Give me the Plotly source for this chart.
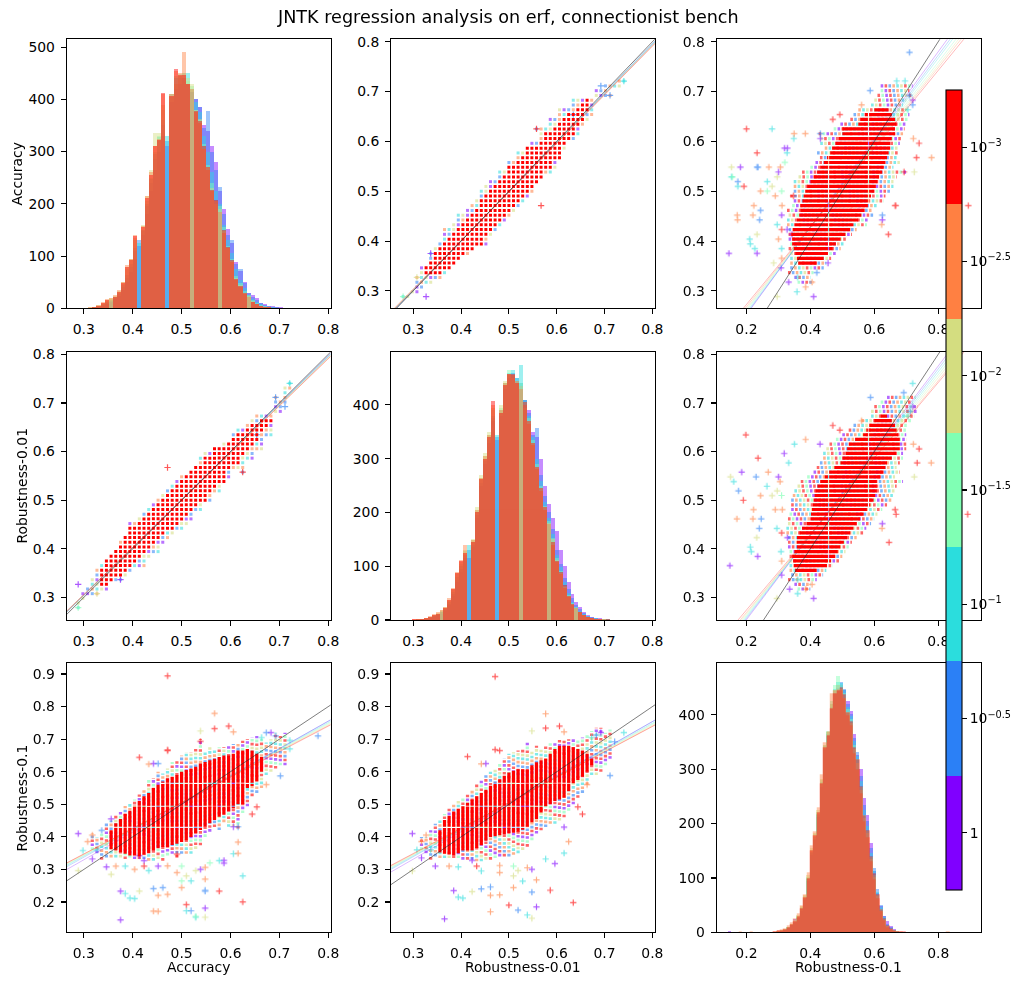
import plotly.graph_objects as go

# ---------------------------------------------------------------- data
series_colors = ["#8000ff", "#2b80f6", "#2bdddd", "#80ffb4", "#d4dd80", "#ff8042", "#ff0000"]
cbar_vals = [0, 0.5, 1, 1.5, 2, 2.5, 3]          # -log10(regularisation)
cbar_text = ["1", "10<sup>−0.5</sup>", "10<sup>−1</sup>", "10<sup>−1.5</sup>",
             "10<sup>−2</sup>", "10<sup>−2.5</sup>", "10<sup>−3</sup>"]
var_labels = ["Accuracy", "Robustness-0.01", "Robustness-0.1"]
title_text = "JNTK regression analysis on erf, connectionist bench"
LATTICE = 1 / 104          # test-set granularity of Accuracy / Robustness-0.01

# histogram: Accuracy (bin start / width, counts per series purple..red)
acc_bin0, acc_binw = 0.2968, 0.0083
acc_h_purple = [0,0,1,1,2,5,8,12,18,24,35,50,70,95,120,140,180,225,265,300,330,310,395,420,430,440,430,415,400,385,350,340,311,281,225,190,151,125,89,72,51,30,25,19,10,8,5,4,3,2]
acc_h_blue = [0,0,1,2,3,6,10,14,20,28,40,58,80,110,130,148,195,240,285,320,350,320,405,430,440,440,428,415,400,385,345,378,300,265,232,180,140,130,85,75,48,30,22,16,10,7,5,3,2,1]
acc_h_cyan = [0,1,1,2,4,8,12,16,21,30,44,64,85,115,125,150,200,248,295,328,360,330,410,440,445,450,450,420,395,375,330,300,260,225,200,160,130,105,75,55,38,26,18,12,8,5,3,2,1,1]
acc_h_green = [0,1,1,2,5,9,14,18,22,32,46,75,92,130,0,150,205,250,300,330,380,0,405,445,448,440,435,425,380,360,315,275,240,205,195,155,120,95,62,48,33,25,15,10,6,4,2,1,1,1]
acc_h_yellow = [0,1,2,3,6,11,16,19,24,34,50,80,95,135,0,160,215,265,336,335,390,0,410,430,445,450,440,430,380,362,305,270,230,200,190,148,115,90,58,44,30,24,14,9,5,3,2,1,1,0]
acc_h_orange = [0,1,2,3,6,12,17,20,25,35,50,82,95,140,0,158,215,260,310,325,410,0,410,455,450,490,430,420,375,355,305,265,225,205,185,145,115,88,55,40,28,22,12,8,5,3,2,1,1,0]
acc_h_red = [0,1,1,2,5,10,15,0,22,32,48,80,92,138,0,156,211,255,310,322,412,0,407,458,446,446,430,0,377,358,310,271,227,208,0,150,118,93,57,42,29,0,13,8,5,3,2,1,0,1]

# histogram: Robustness-0.01
r001_bin0, r001_binw = 0.301, 0.0083
r001_h_purple = [0,0,1,2,3,6,9,12,16,27,44,70,90,110,115,135,190,250,290,330,370,335,380,430,450,455,445,435,410,390,350,340,300,250,215,190,165,130,100,70,48,33,24,15,10,6,4,3,2,1]
r001_h_blue = [0,0,1,2,4,7,10,14,18,30,48,75,95,115,130,140,195,255,295,335,375,340,385,435,455,460,450,440,410,385,345,357,270,230,200,170,130,105,78,58,40,28,20,13,8,5,3,2,1,1]
r001_h_cyan = [0,1,1,2,5,8,12,15,20,34,52,80,100,120,140,145,200,260,300,340,380,345,390,440,460,465,450,475,410,380,340,300,258,220,190,160,120,98,70,50,34,24,17,11,7,4,3,2,1,1]
r001_h_green = [0,1,1,3,5,9,12,17,22,36,55,85,105,128,0,148,205,265,305,345,390,0,395,440,465,455,445,440,405,375,335,290,250,212,185,152,115,92,64,46,31,24,15,10,6,4,2,1,1,1]
r001_h_yellow = [0,1,2,3,6,10,13,18,24,38,58,88,108,130,0,150,210,270,310,350,395,0,400,445,455,450,440,435,395,370,330,285,245,210,180,150,112,88,62,44,30,22,14,9,5,3,2,1,1,0]
r001_h_orange = [1,1,2,4,7,11,14,18,25,40,60,90,112,140,0,148,205,265,305,345,400,0,390,440,458,455,445,430,400,365,325,280,240,205,178,140,108,85,60,42,28,22,14,9,5,3,2,1,1,0]
r001_h_red = [1,1,2,3,6,10,12,0,22,38,58,88,110,124,0,145,200,262,300,340,408,0,385,438,458,458,440,0,405,370,330,285,245,210,0,145,110,90,65,45,30,0,15,10,6,4,2,1,0,1]

# histogram: Robustness-0.1
r01_bin0, r01_binw = 0.2885, 0.0104
r01_h_purple = [1,1,3,5,8,13,25,26,40,60,95,142,170,212,268,335,362,410,440,450,455,445,425,408,365,326,300,247,215,165,112,72,48,30,20,12,6,3,1,1,0,0]
r01_h_blue = [1,1,3,5,8,13,18,27,42,62,98,145,172,215,272,338,365,415,445,455,460,448,420,402,358,332,288,235,205,155,118,80,50,30,16,9,5,3,1,1,1,0]
r01_h_cyan = [1,2,3,5,9,14,19,28,44,64,100,148,176,218,276,342,368,420,448,460,458,445,415,398,352,325,278,225,195,146,112,74,46,28,14,8,4,2,1,1,0,0]
r01_h_green = [1,2,4,6,10,15,20,30,46,66,102,152,180,222,280,345,370,425,455,472,455,440,410,392,345,318,268,215,186,138,105,68,42,24,12,7,4,2,1,0,0,0]
r01_h_yellow = [1,2,4,6,10,16,22,32,48,68,105,155,182,225,282,345,368,420,445,455,448,432,405,385,338,312,262,210,182,135,102,66,40,23,11,6,3,2,1,1,0,0]
r01_h_orange = [2,3,5,7,12,18,25,35,50,70,110,160,185,230,290,350,370,440,445,448,445,430,400,380,330,300,255,205,175,130,98,62,38,22,10,6,3,2,1,0,0,0]
r01_h_red = [2,3,4,6,10,15,20,30,45,65,100,150,178,220,275,340,362,412,440,445,450,438,405,388,340,318,268,215,188,140,108,70,42,25,12,7,4,2,1,1,0,0]
r01_tail_x = [0.148, 0.165, 0.180, 0.200, 0.215, 0.230, 0.250, 0.270, 0.720, 0.755, 0.830, 0.890]
r01_tail_n = [2, 1, 2, 1, 1, 1, 1, 1, 1, 1, 1, 1]
r01_tail_series = [0, 1, 5, 6, 5, 2, 3, 4, 3, 6, 5, 6]

# pair A : rows of Accuracy, ranges of Robustness-0.01 (dense core + mixed fringe)
pA_row = [0.7212,0.7115,0.7019,0.6923,0.6827,0.6731,0.6635,0.6538,0.6442,0.6346,0.6250,0.6154,0.6058,0.5962,0.5865,0.5769,0.5673,0.5577,0.5481,0.5385,0.5288,0.5192,0.5096,0.5000,0.4904,0.4808,0.4712,0.4615,0.4519,0.4423,0.4327,0.4231,0.4135,0.4038,0.3942,0.3846,0.3750,0.3654,0.3558,0.3462,0.3365,0.3269,0.3173,0.3077,0.2981,0.2885]
pA_core_lo = [None,None,None,None,0.6635,0.6538,0.6442,0.6250,0.6154,0.6058,0.5962,0.5769,0.5769,0.5673,0.5385,0.5385,0.5288,0.5192,0.5000,0.5000,0.4904,0.4808,0.4712,0.4615,0.4519,0.4423,0.4423,0.4327,0.4231,0.4135,0.4038,0.3942,0.3846,0.3750,0.3654,0.3558,0.3462,0.3462,0.3365,0.3269,0.3269,None,None,None,None,None]
pA_core_hi = [None,None,None,None,0.6635,0.6635,0.6635,0.6538,0.6538,0.6442,0.6346,0.6346,0.6250,0.6154,0.6058,0.6058,0.6058,0.5865,0.5865,0.5673,0.5673,0.5577,0.5481,0.5385,0.5288,0.5192,0.5096,0.5000,0.4904,0.4808,0.4712,0.4615,0.4519,0.4423,0.4423,0.4231,0.4038,0.3942,0.3846,0.3750,0.3558,None,None,None,None,None]
pA_out_lo = [0.7308,0.7019,0.6827,0.6827,0.6346,0.6346,0.6058,0.6058,0.5865,0.5865,0.5577,0.5673,0.5673,0.5481,0.5385,0.5192,0.5192,0.5000,0.5000,0.4808,0.4808,0.4615,0.4519,0.4423,0.4423,0.4327,0.4231,0.4135,0.3942,0.3942,0.3846,0.3654,0.3654,0.3654,0.3558,0.3462,0.3365,0.3365,0.3365,0.3173,0.3173,0.3077,0.3077,0.3077,0.2981,0.2788]
pA_out_hi = [0.7404,0.7308,0.7019,0.7115,0.6731,0.6731,0.6731,0.6731,0.6635,0.6538,0.6442,0.6442,0.6346,0.6154,0.6154,0.6058,0.6058,0.5962,0.5962,0.5865,0.5673,0.5577,0.5481,0.5481,0.5385,0.5288,0.5192,0.5096,0.5000,0.4904,0.4808,0.4712,0.4615,0.4519,0.4519,0.4231,0.4135,0.3942,0.3846,0.3750,0.3654,0.3558,0.3365,0.3173,0.3077,0.2885]
pA_pt_acc = [0.2885, 0.2885, 0.3750, 0.4712, 0.6250, 0.6923, 0.7212, 0.3269, 0.6538, 0.7115]
pA_pt_r001 = [0.2788, 0.3269, 0.3365, 0.5673, 0.5577, 0.7115, 0.7404, 0.3077, 0.6346, 0.6923]
pA_pt_series = [3, 0, 0, 6, 6, 1, 2, 4, 1, 1]

# pair B : rows of Accuracy, ranges of Robustness-0.1
pB_row = [0.7115,0.7019,0.6923,0.6827,0.6731,0.6635,0.6538,0.6442,0.6346,0.6250,0.6154,0.6058,0.5962,0.5865,0.5769,0.5673,0.5577,0.5481,0.5385,0.5288,0.5192,0.5096,0.5000,0.4904,0.4808,0.4712,0.4615,0.4519,0.4423,0.4327,0.4231,0.4135,0.4038,0.3942,0.3846,0.3750,0.3654,0.3558,0.3462,0.3365,0.3269,0.3173]
pB_core_lo = [None,None,None,None,None,0.600,0.570,0.556,0.550,0.500,0.500,0.488,0.478,0.468,0.462,0.452,0.442,0.431,0.421,0.410,0.400,0.390,0.384,0.379,0.375,0.369,0.369,0.365,0.358,0.350,0.345,0.340,0.343,0.343,0.348,0.353,0.358,0.362,None,None,None,None]
pB_core_hi = [None,None,None,None,None,0.645,0.655,0.665,0.670,0.665,0.665,0.655,0.650,0.650,0.645,0.640,0.635,0.630,0.625,0.615,0.610,0.605,0.600,0.590,0.585,0.580,0.570,0.560,0.550,0.535,0.525,0.510,0.495,0.480,0.470,0.455,0.442,0.420,None,None,None,None]
pB_out_lo = [0.620,0.620,0.610,0.600,0.590,0.550,0.535,0.525,0.494,0.473,0.426,0.431,0.431,0.445,0.421,0.430,0.416,0.400,0.374,0.363,0.348,0.348,0.348,0.337,0.348,0.343,0.327,0.332,0.327,0.327,0.332,0.332,0.332,0.337,0.332,0.337,0.337,0.337,0.337,0.330,0.350,0.360]
pB_out_hi = [0.720,0.710,0.720,0.700,0.690,0.705,0.710,0.705,0.700,0.695,0.690,0.685,0.680,0.675,0.675,0.670,0.680,0.660,0.700,0.670,0.660,0.660,0.650,0.635,0.630,0.610,0.595,0.600,0.580,0.577,0.545,0.530,0.515,0.505,0.495,0.480,0.465,0.450,0.442,0.410,0.400,0.410]
pB_pt_acc = [0.5481,0.5288,0.5481,0.5192,0.5096,0.5096,0.4519,0.3750,0.3942,0.3750,0.3846,0.5481,0.5481,0.5769,0.6250,0.4712,0.4615,0.4135,0.5865,0.5769,0.6058,0.6154,0.6058,0.6154,0.2885,0.2885,0.2981,0.3173,0.3173,0.5673,0.5673,0.6058,0.4712,0.4712,0.4135,0.4327,0.7788,0.7212,0.7212,0.7019,0.5481,0.5288,0.4712,0.4327,0.4231,0.4135,0.5096,0.5000,0.5192,0.5385,0.4904,0.4038,0.4423,0.4519,0.4423,0.5000,0.5288,0.5481,0.5865,0.6154,0.6538,0.3462,0.3654,0.3846,0.4038,0.4231,0.4519,0.4904,0.6827,0.6923,0.6731,0.6635,0.5385,0.5385,0.5962,0.4423,0.4519,0.4712,0.3077,0.3269,0.5577,0.5000,0.3558,0.6250,0.3365,0.3558,0.6731,0.6442]
pB_pt_r01 = [0.153,0.153,0.181,0.173,0.173,0.192,0.171,0.145,0.212,0.233,0.226,0.233,0.270,0.233,0.200,0.223,0.244,0.233,0.319,0.327,0.348,0.384,0.431,0.431,0.296,0.410,0.358,0.405,0.332,0.732,0.779,0.722,0.894,0.665,0.644,0.623,0.710,0.696,0.670,0.587,0.306,0.296,0.311,0.296,0.327,0.342,0.280,0.310,0.265,0.300,0.290,0.210,0.241,0.220,0.172,0.244,0.156,0.236,0.328,0.349,0.492,0.308,0.310,0.310,0.300,0.310,0.310,0.347,0.720,0.710,0.720,0.705,0.725,0.693,0.740,0.625,0.625,0.667,0.385,0.360,0.320,0.265,0.285,0.280,0.420,0.455,0.560,0.470]
pB_pt_series = [4,2,0,1,2,6,5,0,2,0,2,1,5,6,6,5,1,4,0,2,2,5,0,1,4,0,2,5,0,6,5,5,6,6,6,5,1,2,2,1,5,4,5,2,0,0,4,3,2,0,5,2,1,5,5,5,3,1,0,5,6,0,5,2,5,6,0,6,0,1,1,2,4,6,6,0,1,6,5,2,3,3,4,2,1,0,5,6]

# pair C : rows of Robustness-0.01, ranges of Robustness-0.1
pC_row = [0.7115,0.7019,0.6923,0.6827,0.6731,0.6635,0.6538,0.6442,0.6346,0.6250,0.6154,0.6058,0.5962,0.5865,0.5769,0.5673,0.5577,0.5481,0.5385,0.5288,0.5192,0.5096,0.5000,0.4904,0.4808,0.4712,0.4615,0.4519,0.4423,0.4327,0.4231,0.4135,0.4038,0.3942,0.3846,0.3750,0.3654,0.3558,0.3462,0.3365,0.3269,0.3173]
pC_core_lo = [None,None,None,None,0.620,0.600,0.585,0.575,0.565,0.540,0.520,0.515,0.510,0.500,0.494,0.475,0.455,0.445,0.431,0.422,0.416,0.413,0.410,0.408,0.405,0.402,0.400,0.388,0.374,0.366,0.358,0.358,0.358,0.350,0.343,0.346,0.348,0.352,None,None,None,None]
pC_core_hi = [None,None,None,None,0.640,0.655,0.665,0.670,0.675,0.680,0.680,0.680,0.670,0.655,0.640,0.635,0.629,0.620,0.608,0.608,0.608,0.603,0.598,0.588,0.577,0.567,0.556,0.545,0.535,0.525,0.515,0.505,0.494,0.486,0.478,0.465,0.452,0.420,None,None,None,None]
pC_out_lo = [0.640,0.620,0.600,0.590,0.590,0.560,0.535,0.520,0.500,0.480,0.460,0.450,0.440,0.440,0.430,0.420,0.410,0.390,0.370,0.360,0.350,0.345,0.340,0.340,0.340,0.335,0.330,0.330,0.325,0.325,0.330,0.330,0.330,0.335,0.335,0.335,0.335,0.335,0.340,0.330,0.350,0.360]
pC_out_hi = [0.730,0.720,0.735,0.735,0.725,0.715,0.705,0.700,0.700,0.700,0.700,0.700,0.690,0.690,0.680,0.670,0.680,0.665,0.690,0.670,0.665,0.660,0.655,0.640,0.625,0.610,0.600,0.590,0.575,0.565,0.545,0.530,0.520,0.510,0.500,0.490,0.470,0.450,0.440,0.420,0.400,0.400]
pC_pt_r001 = [0.5481,0.5385,0.5577,0.5192,0.5000,0.4615,0.3654,0.3942,0.3846,0.5481,0.5577,0.5865,0.6346,0.4808,0.4615,0.4231,0.5962,0.5769,0.6154,0.6250,0.6154,0.2981,0.2981,0.3077,0.3269,0.3173,0.5769,0.5769,0.6154,0.4712,0.4808,0.4135,0.4423,0.7404,0.7212,0.7115,0.5385,0.5192,0.4808,0.4423,0.4231,0.5096,0.5096,0.5288,0.5481,0.4808,0.4038,0.4423,0.4615,0.5096,0.6442,0.3462,0.3750,0.3942,0.4327,0.6923,0.6827,0.6731,0.5481,0.6058,0.4519,0.4712,0.3173,0.3365,0.6635,0.6538]
pC_pt_r01 = [0.150,0.160,0.185,0.175,0.190,0.170,0.148,0.215,0.235,0.230,0.268,0.236,0.198,0.222,0.246,0.232,0.318,0.332,0.350,0.385,0.430,0.295,0.410,0.360,0.405,0.335,0.734,0.778,0.722,0.892,0.665,0.646,0.624,0.720,0.692,0.588,0.305,0.296,0.312,0.295,0.328,0.280,0.310,0.264,0.300,0.290,0.212,0.240,0.220,0.244,0.492,0.310,0.310,0.308,0.310,0.720,0.712,0.705,0.725,0.740,0.625,0.668,0.385,0.360,0.560,0.470]
pC_pt_series = [4,2,0,1,6,5,0,2,0,1,5,6,6,5,1,4,0,2,2,5,0,4,0,2,5,0,6,5,5,6,6,6,5,2,1,1,5,4,5,2,0,4,3,2,0,5,2,1,5,5,6,0,5,2,6,0,1,2,4,6,0,6,5,2,5,6]

# Robustness-0.1 values left empty inside the dense core (visible as thin white lines)
r01_empty_rows = [0.457, 0.582]          # seen in the row-wise panels
r01_empty_cols = [0.429, 0.494, 0.564]   # seen in the column-wise panels

# regression lines (slope, intercept) per panel, series purple..red
reg_01_slope = [0.990, 0.985, 0.990, 0.985, 0.980, 0.980, 0.975]
reg_01_icpt = [0.004, 0.006, 0.004, 0.007, 0.009, 0.008, 0.011]
reg_10_slope = [0.985, 0.980, 0.985, 0.980, 0.975, 0.975, 0.970]
reg_10_icpt = [0.009, 0.011, 0.008, 0.011, 0.013, 0.012, 0.015]
reg_02_slope = [0.880, 0.865, 0.850, 0.830, 0.815, 0.800, 0.783]
reg_02_icpt = [0.076, 0.081, 0.087, 0.095, 0.101, 0.108, 0.116]
reg_12_slope = [0.870, 0.855, 0.840, 0.825, 0.810, 0.795, 0.780]
reg_12_icpt = [0.080, 0.086, 0.092, 0.098, 0.104, 0.110, 0.118]
reg_20_slope = [0.852, 0.835, 0.820, 0.810, 0.800, 0.790, 0.785]
reg_20_icpt = [0.074, 0.087, 0.095, 0.100, 0.105, 0.110, 0.112]
reg_21_slope = [0.845, 0.830, 0.815, 0.805, 0.795, 0.785, 0.780]
reg_21_icpt = [0.078, 0.090, 0.097, 0.102, 0.107, 0.112, 0.115]

# ---------------------------------------------------------------- layout geometry (window pixels)
W, H = 1022, 985
col_px = [(66.7, 330.7), (391.0, 655.0), (716.7, 980.7)]
row_px = [(39.3, 308.3), (351.7, 620.0), (663.3, 932.3)]
var_range = [[0.265, 0.805], [0.2535, 0.8055], [0.107, 0.933]]
hist_top = [515, 499, 495]
FONT = "DejaVu Sans"
FS = 13.9


def px_x(px):
    return px / W


def px_y(py):
    return 1 - py / H


fig = go.Figure()


def ax(r, c, kind):
    p = r * 3 + c + 1
    return kind if p == 1 else f"{kind}{p}"


def ppu_x(c):
    return (col_px[c][1] - col_px[c][0]) / (var_range[c][1] - var_range[c][0])


def ppu_y(r):
    return (row_px[r][1] - row_px[r][0]) / (var_range[r][1] - var_range[r][0])


def add_segments(r, c, orient, fixed, lo, hi, color, width, dash="solid", opacity=1.0):
    if not fixed:
        return
    xs, ys = [], []
    for f, a, b in zip(fixed, lo, hi):
        if orient == "h":
            xs += [a, b, None]
            ys += [f, f, None]
        else:
            xs += [f, f, None]
            ys += [a, b, None]
    fig.add_trace(go.Scatter(x=xs, y=ys, mode="lines", xaxis=ax(r, c, "x"), yaxis=ax(r, c, "y"),
                             line=dict(color=color, width=width, dash=dash), opacity=opacity,
                             connectgaps=False, showlegend=False, hoverinfo="skip"))


def dash_for(j, n, dot, step):
    period = n * step
    off = j * step
    if j == 0:
        return f"{dot:.2f}px,{period - dot:.2f}px"
    return f"0px,{off:.2f}px,{dot:.2f}px,{period - off - dot:.2f}px"


# ---------------------------------------------------------------- histograms
hist_sets = [
    (0, acc_bin0, acc_binw, [acc_h_purple, acc_h_blue, acc_h_cyan, acc_h_green, acc_h_yellow, acc_h_orange, acc_h_red]),
    (1, r001_bin0, r001_binw, [r001_h_purple, r001_h_blue, r001_h_cyan, r001_h_green, r001_h_yellow, r001_h_orange, r001_h_red]),
    (2, r01_bin0, r01_binw, [r01_h_purple, r01_h_blue, r01_h_cyan, r01_h_green, r01_h_yellow, r01_h_orange, r01_h_red]),
]
HIST_ALPHA = 0.45
for d, b0, bw, sets in hist_sets:
    for s, counts in enumerate(sets):
        fig.add_trace(go.Bar(x0=b0, dx=bw, y=counts, width=bw, xaxis=ax(d, d, "x"), yaxis=ax(d, d, "y"),
                             marker=dict(color=series_colors[s], line=dict(width=0)), opacity=HIST_ALPHA,
                             showlegend=False, hoverinfo="skip"))
        if d == 2:
            tx = [x for x, ss in zip(r01_tail_x, r01_tail_series) if ss == s]
            tn = [n for n, ss in zip(r01_tail_n, r01_tail_series) if ss == s]
            if tx:
                fig.add_trace(go.Bar(x=tx, y=tn, width=bw, xaxis=ax(2, 2, "x"), yaxis=ax(2, 2, "y"),
                                     marker=dict(color=series_colors[s], line=dict(width=0)), opacity=HIST_ALPHA,
                                     showlegend=False, hoverinfo="skip"))

# ---------------------------------------------------------------- scatter panels
fringe_A = [5, 2, 4, 0, 1]
fringe_BC = [0, 6, 1, 5, 2, 4, 6, 3]

pairs = [
    dict(kind="A", rows=pA_row, clo=pA_core_lo, chi=pA_core_hi, olo=pA_out_lo, ohi=pA_out_hi,
         pr=pA_pt_acc, pv=pA_pt_r001, ps=pA_pt_series,
         panels=[(0, 1, "h", reg_01_slope, reg_01_icpt), (1, 0, "v", reg_10_slope, reg_10_icpt)]),
    dict(kind="B", rows=pB_row, clo=pB_core_lo, chi=pB_core_hi, olo=pB_out_lo, ohi=pB_out_hi,
         pr=pB_pt_acc, pv=pB_pt_r01, ps=pB_pt_series,
         panels=[(0, 2, "h", reg_02_slope, reg_02_icpt), (2, 0, "v", reg_20_slope, reg_20_icpt)]),
    dict(kind="C", rows=pC_row, clo=pC_core_lo, chi=pC_core_hi, olo=pC_out_lo, ohi=pC_out_hi,
         pr=pC_pt_r001, pv=pC_pt_r01, ps=pC_pt_series,
         panels=[(1, 2, "h", reg_12_slope, reg_12_icpt), (2, 1, "v", reg_21_slope, reg_21_icpt)]),
]


def add_fringe(r, c, orient, fx, flo, fhi, palette, dot, step, width, opacity):
    n = len(palette)
    for q in range(n):                       # rotate the colour order from row to row
        sel = [i for i in range(len(fx)) if i % n == q]
        if not sel:
            continue
        for j, s in enumerate(palette):
            slot = (j + q) % n
            add_segments(r, c, orient, [fx[i] for i in sel], [flo[i] for i in sel], [fhi[i] for i in sel],
                         series_colors[s], width, dash=dash_for(slot, n, dot, step), opacity=opacity)


for P in pairs:
    for (r, c, orient, slopes, icpts) in P["panels"]:
        ppu = ppu_x(c) if orient == "h" else ppu_y(r)
        xa, ya = ax(r, c, "x"), ax(r, c, "y")
        if P["kind"] == "A":
            step_px = LATTICE * ppu
            dot = 3.0
            half = 0.5 * dot / ppu
            fx, flo, fhi = [], [], []
            for f, a, b, ol, oh in zip(P["rows"], P["clo"], P["chi"], P["olo"], P["ohi"]):
                if a is None:
                    fx.append(f); flo.append(ol - half); fhi.append(oh + half)
                else:
                    if ol < a - LATTICE / 2:
                        fx.append(f); flo.append(ol - half); fhi.append(a - LATTICE + half)
                    if oh > b + LATTICE / 2:
                        fx.append(f); flo.append(b + LATTICE - half); fhi.append(oh + half)
            add_fringe(r, c, orient, fx, flo, fhi, fringe_A, dot, step_px, 3.0, 0.55)
        else:
            add_fringe(r, c, orient, P["rows"], P["olo"], P["ohi"], fringe_BC, 2.6, 3.9, 3.2, 0.6)
        # isolated points
        for s in range(7):
            pr = [a for a, ss in zip(P["pr"], P["ps"]) if ss == s]
            pv = [b for b, ss in zip(P["pv"], P["ps"]) if ss == s]
            if not pr:
                continue
            xs, ys = (pv, pr) if orient == "h" else (pr, pv)
            fig.add_trace(go.Scatter(x=xs, y=ys, mode="markers", xaxis=xa, yaxis=ya,
                                     marker=dict(symbol="cross-thin", size=4.5, color=series_colors[s],
                                                 line=dict(width=1.2, color=series_colors[s])),
                                     opacity=0.65, showlegend=False, hoverinfo="skip"))
        # regression lines of the six more regularised runs
        xr = var_range[c]
        for s in range(6):
            fig.add_trace(go.Scatter(x=xr, y=[slopes[s] * xr[0] + icpts[s], slopes[s] * xr[1] + icpts[s]],
                                     mode="lines", xaxis=xa, yaxis=ya,
                                     line=dict(color=series_colors[s], width=0.8), opacity=0.35,
                                     showlegend=False, hoverinfo="skip"))
        # dense red core
        cf = [f for f, a in zip(P["rows"], P["clo"]) if a is not None]
        clo = [a for a in P["clo"] if a is not None]
        chi = [b for b in P["chi"] if b is not None]
        if P["kind"] == "A":
            half = 1.5 / ppu
            add_segments(r, c, orient, cf, [a - half for a in clo], [b + half for b in chi],
                         "#ff0000", 3.0, dash=f"3px,{LATTICE * ppu - 3:.3f}px")
        else:
            cuts = r01_empty_rows if orient == "h" else r01_empty_cols
            gap = 0.6 / ppu
            sf, sl, sh = [], [], []
            for f, a, b in zip(cf, clo, chi):
                start = a
                for g in cuts:
                    if start < g < b:
                        sf.append(f); sl.append(start); sh.append(g - gap)
                        start = g + gap
                sf.append(f); sl.append(start); sh.append(b)
            add_segments(r, c, orient, sf, sl, sh, "#ff0000", 3.2)
        fig.add_trace(go.Scatter(x=xr, y=[slopes[6] * xr[0] + icpts[6], slopes[6] * xr[1] + icpts[6]],
                                 mode="lines", xaxis=xa, yaxis=ya,
                                 line=dict(color=series_colors[6], width=0.8), opacity=0.35,
                                 showlegend=False, hoverinfo="skip"))
        # identity line
        fig.add_trace(go.Scatter(x=[0, 1], y=[0, 1], mode="lines", xaxis=xa, yaxis=ya,
                                 line=dict(color="rgba(40,40,40,0.6)", width=1.0),
                                 showlegend=False, hoverinfo="skip"))

# ---------------------------------------------------------------- colourbar
cs = []
for i, col in enumerate(series_colors):
    cs.append([i / 7, col])
    cs.append([(i + 1) / 7, col])
fig.add_trace(go.Scatter(x=[None], y=[None], mode="markers", xaxis="x", yaxis="y",
                         marker=dict(color=[0], colorscale=cs, cmin=-0.25, cmax=3.25, showscale=True,
                                     colorbar=dict(xref="paper", yref="paper", x=px_x(945.5), xanchor="left",
                                                   y=px_y(490), yanchor="middle", len=800 / H,
                                                   lenmode="fraction", thickness=15.5, thicknessmode="pixels",
                                                   xpad=0, ypad=0, outlinewidth=1.1, outlinecolor="black",
                                                   ticks="outside", ticklen=4.9, tickwidth=1.1, tickcolor="black",
                                                   tickvals=cbar_vals, ticktext=cbar_text,
                                                   tickfont=dict(family=FONT, size=FS, color="black"))),
                         showlegend=False, hoverinfo="skip"))

# ---------------------------------------------------------------- axes
tick_main = [0.3, 0.4, 0.5, 0.6, 0.7, 0.8]
layout_axes = {}
for r in range(3):
    for c in range(3):
        p = r * 3 + c + 1
        xk = "xaxis" if p == 1 else f"xaxis{p}"
        yk = "yaxis" if p == 1 else f"yaxis{p}"
        common = dict(showline=True, mirror=True, linecolor="black", linewidth=1.1, ticks="outside",
                      ticklen=4.9, tickwidth=1.1, tickcolor="black", showgrid=False, zeroline=False,
                      tickfont=dict(family=FONT, size=FS, color="black"), automargin=False,
                      ticklabelstandoff=3)
        xt = [0.2, 0.4, 0.6, 0.8] if c == 2 else tick_main
        layout_axes[xk] = dict(common, domain=[px_x(col_px[c][0]), px_x(col_px[c][1])], range=var_range[c],
                               anchor=ax(r, c, "y"), tickvals=xt, ticktext=[f"{v:.1f}" for v in xt])
        if r == c:
            yt = [0, 100, 200, 300, 400, 500] if r == 0 else [0, 100, 200, 300, 400]
            yr = [0, hist_top[r]]
            ytxt = [str(v) for v in yt]
        else:
            yt = [0.2, 0.3, 0.4, 0.5, 0.6, 0.7, 0.8, 0.9] if r == 2 else tick_main
            yr = var_range[r]
            ytxt = [f"{v:.1f}" for v in yt]
        layout_axes[yk] = dict(common, domain=[px_y(row_px[r][1]), px_y(row_px[r][0])], range=yr,
                               anchor=ax(r, c, "x"), tickvals=yt, ticktext=ytxt)

annotations = []
for c in range(3):
    annotations.append(dict(text=var_labels[c], x=px_x((col_px[c][0] + col_px[c][1]) / 2), y=px_y(967),
                            xref="paper", yref="paper", showarrow=False, xanchor="center", yanchor="middle",
                            font=dict(family=FONT, size=FS, color="black")))
ylab_x = [16.7, 21.7, 21.7]
for r in range(3):
    annotations.append(dict(text=var_labels[r], x=px_x(ylab_x[r]), y=px_y((row_px[r][0] + row_px[r][1]) / 2),
                            xref="paper", yref="paper", showarrow=False, xanchor="center", yanchor="middle",
                            textangle=-90, font=dict(family=FONT, size=FS, color="black")))
annotations.append(dict(text=title_text, x=px_x(508), y=px_y(16.5), xref="paper", yref="paper",
                        showarrow=False, xanchor="center", yanchor="middle",
                        font=dict(family=FONT, size=17.6, color="black")))

fig.update_layout(
    width=W, height=H, margin=dict(l=0, r=0, t=0, b=0),
    paper_bgcolor="white", plot_bgcolor="white",
    barmode="overlay", bargap=0, showlegend=False, hovermode=False,
    annotations=annotations,
    **layout_axes,
)

fig.write_html("out.html", config={"displayModeBar": False, "staticPlot": True},
               post_script="document.body.style.margin='0';document.body.style.overflow='hidden';")
